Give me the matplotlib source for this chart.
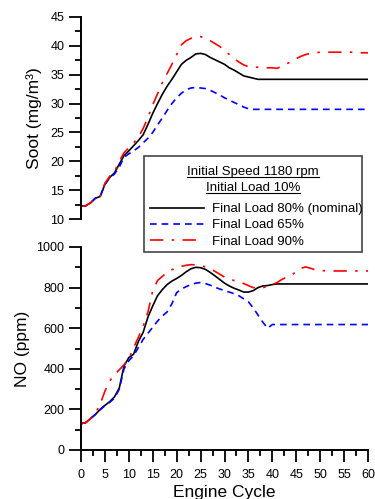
import numpy as np
import matplotlib
matplotlib.use("Agg")
import matplotlib.pyplot as plt
from matplotlib.patches import Rectangle
from matplotlib.lines import Line2D
from matplotlib.ticker import MultipleLocator

plt.rcParams['font.family'] = ['Liberation Sans', 'DejaVu Sans']

# engine cycle axis
cycles = list(range(0, 61))

# soot (mg/m3)
soot_80 = [12.2, 12.3, 12.8, 13.6, 13.9, 16.0, 17.2, 18.0, 19.5, 21.0,
           21.8, 22.7, 23.6, 24.6, 26.4, 28.3, 30.0, 31.6, 33.0, 34.2,
           35.5, 36.8, 37.5, 38.0, 38.6, 38.7, 38.5, 38.0, 37.6, 37.2,
           36.8, 36.2, 35.8, 35.3, 34.8, 34.6, 34.4, 34.2, 34.2, 34.2,
           34.2, 34.2, 34.2, 34.2, 34.2, 34.2, 34.2, 34.2, 34.2, 34.2,
           34.2, 34.2, 34.2, 34.2, 34.2, 34.2, 34.2, 34.2, 34.2, 34.2, 34.2]
soot_65 = [12.2, 12.3, 12.8, 13.6, 13.9, 16.0, 17.1, 17.8, 19.0, 20.7,
           21.3, 21.8, 22.4, 23.2, 24.0, 25.0, 26.3, 27.5, 28.8, 30.0,
           31.0, 31.8, 32.4, 32.7, 32.8, 32.7, 32.6, 32.3, 31.9, 31.5,
           31.0, 30.6, 30.2, 29.8, 29.4, 29.1, 29.0, 29.0, 29.0, 29.0,
           29.0, 29.0, 29.0, 29.0, 29.0, 29.0, 29.0, 29.0, 29.0, 29.0,
           29.0, 29.0, 29.0, 29.0, 29.0, 29.0, 29.0, 29.0, 29.0, 29.0, 29.0]
soot_90 = [12.2, 12.3, 12.8, 13.6, 13.9, 16.2, 17.4, 18.2, 20.0, 21.5,
           22.3, 23.2, 24.2, 25.7, 27.6, 29.8, 31.7, 33.6, 35.2, 36.8,
           38.5, 40.2, 40.9, 41.3, 41.6, 41.6, 41.3, 40.9, 40.4, 39.9,
           39.2, 38.5, 37.8, 37.2, 36.7, 36.4, 36.3, 36.3, 36.3, 36.2,
           36.2, 36.1, 36.5, 36.9, 37.3, 37.8, 38.2, 38.5, 38.7, 38.8,
           38.9, 38.9, 38.9, 38.9, 38.9, 38.9, 38.9, 38.9, 38.8, 38.8, 38.8]

# NO (ppm)
no_80 = [130, 135, 155, 175, 200, 220, 238, 262, 305, 415,
         455, 472, 535, 580, 655, 710, 760, 790, 815, 832,
         845, 860, 878, 893, 900, 898, 890, 875, 858, 840,
         822, 808, 797, 788, 778, 778, 785, 800, 808, 810,
         815, 818, 818, 818, 818, 818, 818, 818, 818, 818,
         818, 818, 818, 818, 818, 818, 818, 818, 818, 818, 818]
no_65 = [130, 135, 155, 175, 198, 218, 235, 255, 300, 400,
         440, 465, 505, 545, 575, 605, 635, 660, 680, 720,
         775, 793, 805, 815, 822, 825, 820, 812, 802, 793,
         785, 778, 770, 760, 745, 730, 700, 665, 630, 600,
         618, 618, 618, 618, 618, 618, 618, 618, 618, 618,
         618, 618, 618, 618, 618, 618, 618, 618, 618, 618, 618]
no_90 = [130, 135, 155, 180, 225, 290, 340, 372, 395, 420,
         450, 505, 555, 610, 680, 785, 835, 855, 875, 888,
         898, 905, 910, 913, 912, 908, 902, 893, 880, 866,
         852, 842, 835, 830, 820, 810, 800, 798, 800, 805,
         815, 825, 840, 852, 862, 878, 895, 902, 895, 888,
         885, 883, 882, 882, 882, 882, 882, 882, 882, 882, 882]

labels = ['Final Load 80% (nominal)', 'Final Load 65%', 'Final Load 90%']

W, H = 375, 499
fig = plt.figure(figsize=(W / 100, H / 100), dpi=100)

def px_box(l, r, t, b):
    return [l / W, 1 - b / H, (r - l) / W, (b - t) / H]

ax1 = fig.add_axes(px_box(81, 368, 17, 219))
ax2 = fig.add_axes(px_box(81, 368, 247, 450))

styles = [dict(color='black', ls='-'),
          dict(color='blue', ls=(0, (4, 3))),
          dict(color='red', ls=(0, (8, 5, 1.5, 5)))]

for ys, st in zip([soot_80, soot_65, soot_90], styles):
    ax1.plot(cycles, ys, lw=1.2, **st)
for ys, st in zip([no_80, no_65, no_90], styles):
    ax2.plot(cycles, ys, lw=1.2, **st)

for ax in (ax1, ax2):
    ax.set_xlim(0, 60)
    for s in ('top', 'right'):
        ax.spines[s].set_visible(False)
    for s in ('left', 'bottom'):
        ax.spines[s].set_linewidth(1.4)
    ax.tick_params(axis='both', which='major', direction='out', length=8.5,
                   width=1.3, labelsize=9)
    ax.tick_params(axis='both', which='minor', direction='out', length=4.5,
                   width=1.3)
    ax.tick_params(axis='y', which='major', pad=3.5)
    ax.tick_params(axis='x', which='major', pad=5.5)
    ax.xaxis.set_major_locator(MultipleLocator(5))
    ax.xaxis.set_minor_locator(MultipleLocator(2.5))

ax1.set_ylim(10, 45)
ax1.yaxis.set_major_locator(MultipleLocator(5))
ax1.yaxis.set_minor_locator(MultipleLocator(2.5))
ax1.spines['bottom'].set_visible(False)
ax1.tick_params(axis='x', which='both', bottom=False, labelbottom=False)
ax1.set_ylabel('Soot (mg/m³)', fontsize=12.5)
ax1.yaxis.set_label_coords(-0.136, 0.5)

ax2.set_ylim(0, 1000)
ax2.yaxis.set_major_locator(MultipleLocator(200))
ax2.yaxis.set_minor_locator(MultipleLocator(100))
ax2.set_ylabel('NO (ppm)', fontsize=12.5)
ax2.yaxis.set_label_coords(-0.178, 0.5)
ax2.set_xlabel('Engine Cycle', fontsize=12.5)
ax2.xaxis.set_label_coords(0.5, -0.17)

# legend box spanning both panels
fig.patches.append(Rectangle((144 / W, 1 - 252 / H), 218 / W, 96 / H,
                             transform=fig.transFigure, facecolor='white',
                             edgecolor='#444444', lw=1.2, zorder=5))
t1 = fig.text(253 / W, 1 - 172 / H, 'Initial Speed 1180 rpm', ha='center',
              va='center', fontsize=9.5, zorder=6)
t2 = fig.text(253 / W, 1 - 188 / H, 'Initial Load 10%', ha='center',
              va='center', fontsize=9.5, zorder=6)
handles = [Line2D([], [], lw=1.2, **st) for st in styles]
leg = fig.legend(handles, labels, loc='upper left',
                 bbox_to_anchor=(150 / W, 1 - 203 / H), frameon=False,
                 fontsize=9.5, handlelength=4.1, handletextpad=0.6,
                 labelspacing=0.3, borderpad=0, borderaxespad=0)
leg.set_zorder(6)

fig.canvas.draw()
inv = fig.transFigure.inverted()
for t in (t1, t2):
    bb = t.get_window_extent()
    (x0, y0), (x1, y1) = inv.transform([[bb.x0, bb.y0], [bb.x1, bb.y1]])
    fig.lines.append(Line2D([x0, x1], [y0 + 0.002, y0 + 0.002],
                            transform=fig.transFigure, color='black',
                            lw=0.8, zorder=7))

fig.savefig('out.png', dpi=100)
